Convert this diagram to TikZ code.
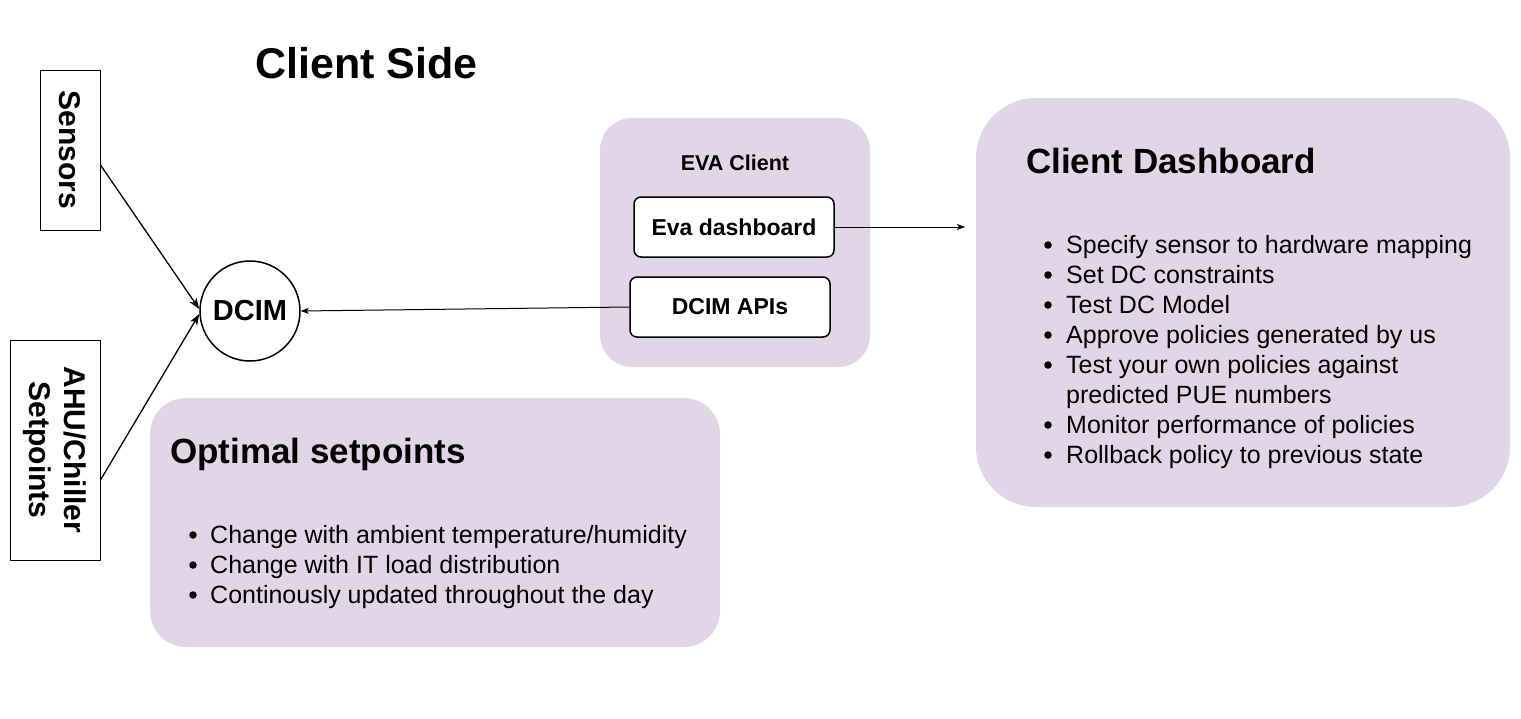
\documentclass[tikz,border=0pt]{standalone}
\usepackage{fontspec}
\setmainfont{Liberation Sans}
\usetikzlibrary{arrows.meta}
\definecolor{lav}{HTML}{E1D5E7}
\begin{document}
\begin{tikzpicture}[x=1pt,y=-1pt,
  grp/.style={fill=lav, draw=none, inner sep=0pt},
  ibox/.style={draw, line width=1.5pt, rounded corners=7pt, fill=white, minimum width=200pt, minimum height=60pt, inner sep=0pt, font=\fontsize{23}{27}\selectfont\bfseries},
  sbox/.style={draw, line width=1pt, inner sep=0pt, font=\fontsize{30}{36}\selectfont\bfseries, rotate=-90, align=center},
  arr/.style={line width=1.3pt, -{Stealth[length=11pt,width=8pt,inset=3pt]}},
  arrs/.style={line width=1pt, -{Stealth[length=8pt,width=6pt,inset=2pt]}},
  btxt/.style={anchor=base west, inner sep=0pt, font=\fontsize{25}{30}\selectfont},
  ttl/.style={anchor=base west, inner sep=0pt, font=\fontsize{35}{42}\selectfont\bfseries},
  dot/.style={circle, fill=black, inner sep=0pt, minimum size=7.5pt}
]
\useasboundingbox (0,0) rectangle (1521,718);

% title
\node[anchor=base west, inner sep=0pt, font=\fontsize{43}{50}\selectfont\bfseries] (title) at (255,78) {Client Side};

% left boxes
\node[sbox, minimum width=160pt, minimum height=60pt] (sensors) at (70,150) {Sensors};
\node[sbox, minimum width=220pt, minimum height=90pt, font=\fontsize{30}{35}\selectfont\bfseries] (ahu) at (55,450) {AHU/Chiller\\Setpoints};

% DCIM
\node[circle, draw, line width=1.5pt, minimum size=100pt, inner sep=0pt, font=\fontsize{29}{34}\selectfont\bfseries] (dcim) at (250,311) {DCIM};

% EVA client group
\node[grp, rounded corners=32pt, minimum width=270pt, minimum height=249pt] (eva) at (735,242.5) {};
\node[anchor=base, inner sep=0pt, font=\fontsize{21.5}{26}\selectfont\bfseries] (evat) at (735,170) {EVA Client};
\node[ibox] (evadash) at (734,227) {Eva dashboard};
\node[ibox] (api) at (730,307) {DCIM APIs};

% Client dashboard group
\node[grp, rounded corners=60pt, minimum width=534pt, minimum height=409pt] (cd) at (1243,302.5) {};
\node[ttl] (cdt) at (1026,173) {Client Dashboard};
\foreach \t [count=\i] in {Specify sensor to hardware mapping, Set DC constraints, Test DC Model, Approve policies generated by us, Test your own policies against, predicted PUE numbers, Monitor performance of policies, Rollback policy to previous state}{
  \node[btxt] (cd\i) at (1066,{245+30*(\i-1)+8}) {\t};
}
\foreach \i in {1,2,3,4,5,7,8}{
  \node[dot] (cdb\i) at (1048,{245+30*(\i-1)}) {};
}

% Optimal setpoints group
\node[grp, rounded corners=36pt, minimum width=570pt, minimum height=249pt] (opt) at (435,522.5) {};
\node[ttl] (optt) at (170,463) {Optimal setpoints};
\foreach \t [count=\i] in {Change with ambient temperature/humidity, Change with IT load distribution, Continously updated throughout the day}{
  \node[btxt] (op\i) at (210,{535+30*(\i-1)+8}) {\t};
  \node[dot] (opb\i) at (193,{535+30*(\i-1)}) {};
}

% connectors
\coordinate (free) at (965,227);
\draw[arr] ([yshift=-15pt]sensors.north) -- ([yshift=2pt]dcim.west);
\draw[arr] ([yshift=-30pt]ahu.north) -- ([yshift=-3pt]dcim.west);
\draw[arrs] (api.west) -- (dcim.east);
\draw[arrs] (evadash.east) -- (free);
\end{tikzpicture}
\end{document}
